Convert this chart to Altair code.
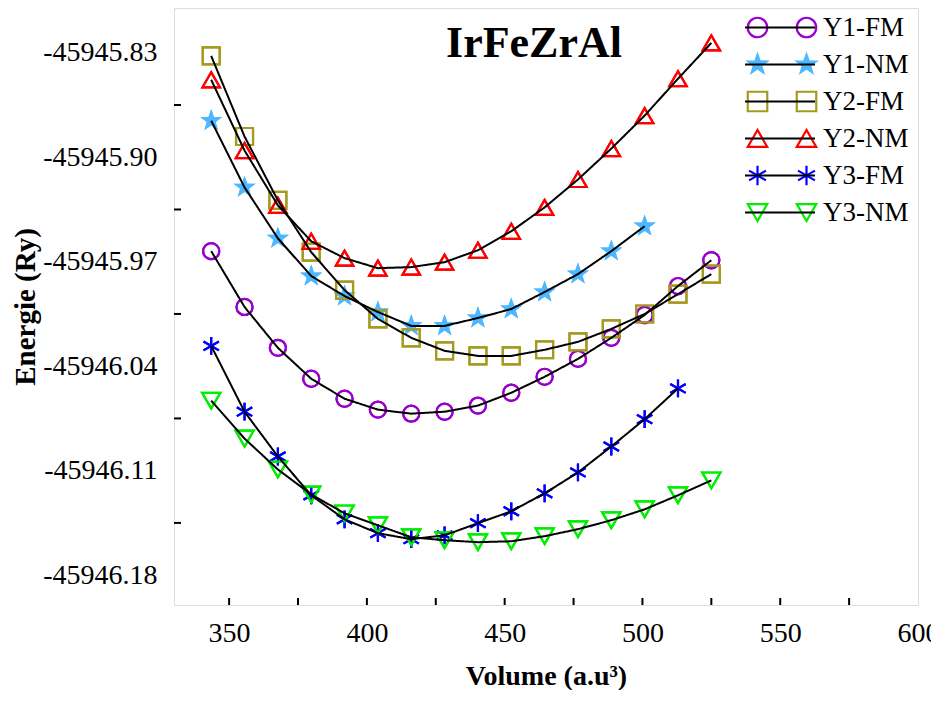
import altair as alt
import pandas as pd

# ---------------- data ----------------
volume = [343.5, 355.6, 367.7, 379.8, 391.9, 404.0, 416.1, 428.2,
          440.3, 452.4, 464.5, 476.6, 488.7, 500.8, 512.9, 525.0]

y1_fm = [-45945.9629, -45946.0003, -45946.0277, -45946.0484, -45946.0618, -45946.0691,
         -45946.0718, -45946.0705, -45946.0664, -45946.0578, -45946.0471, -45946.0351,
         -45946.0210, -45946.0057, -45945.9863, -45945.9690]
y1_nm = [-45945.8755, -45945.9202, -45945.9543, -45945.9796, -45945.9930, -45946.0037,
         -45946.0130, -45946.0130, -45946.0077, -45946.0017, -45945.9903, -45945.9783,
         -45945.9629, -45945.9462]
y2_fm = [-45945.8321, -45945.8861, -45945.9289, -45945.9636, -45945.9890, -45946.0083,
         -45946.0210, -45946.0297, -45946.0331, -45946.0331, -45946.0290, -45946.0237,
         -45946.0150, -45946.0050, -45945.9917, -45945.9783]
y2_nm = [-45945.8481, -45945.8955, -45945.9322, -45945.9563, -45945.9676, -45945.9743,
         -45945.9736, -45945.9703, -45945.9623, -45945.9496, -45945.9336, -45945.9149,
         -45945.8942, -45945.8721, -45945.8474, -45945.8234]
y3_fm = [-45946.0264, -45946.0705, -45946.1005, -45946.1265, -45946.1426, -45946.1519,
         -45946.1559, -45946.1533, -45946.1452, -45946.1372, -45946.1252, -45946.1112,
         -45946.0938, -45946.0755, -45946.0549]
y3_nm = [-45946.0631, -45946.0885, -45946.1092, -45946.1259, -45946.1386, -45946.1466,
         -45946.1546, -45946.1566, -45946.1579, -45946.1573, -45946.1539, -45946.1492,
         -45946.1432, -45946.1359, -45946.1265, -45946.1165]

series_names = ["Y1-FM", "Y1-NM", "Y2-FM", "Y2-NM", "Y3-FM", "Y3-NM"]
series_values = [y1_fm, y1_nm, y2_fm, y2_nm, y3_fm, y3_nm]

x_labels = [350, 400, 450, 500, 550, 600]
x_ticks = [350, 375, 400, 425, 450, 475, 500, 525, 550, 575]
y_labels = [-45945.83, -45945.90, -45945.97, -45946.04, -45946.11, -45946.18]
y_ticks = [-45945.865, -45945.935, -45946.005, -45946.075, -45946.145]

chart_title = "IrFeZrAl"

# ---------------- styling ----------------
STAR = ("M0,-1L0.235,-0.324L0.951,-0.309L0.380,0.124L0.588,0.809L0,0.4"
        "L-0.588,0.809L-0.380,0.124L-0.951,-0.309L-0.235,-0.324Z")
ASTER = "M0,-1V1M-0.866,-0.5L0.866,0.5M-0.866,0.5L0.866,-0.5"
shapes = ["circle", STAR, "square", "triangle-up", ASTER, "triangle-down"]
colors = ["#9900CC", "#4DB8FF", "#A39A1E", "#FF0000", "#0000FF", "#00EE00"]
fills = ["transparent", "#4DB8FF", "transparent", "transparent", "transparent", "transparent"]
sizes = [260, 330, 170, 340, 320, 340]

W, H = 744, 597
FONT = "Liberation Serif"

rows = []
for name, vals in zip(series_names, series_values):
    for v, e in zip(volume, vals):
        rows.append({"series": name, "volume": v, "energy": e})
df = pd.DataFrame(rows)

xscale = alt.Scale(domain=[330, 600], zero=False, nice=False)
yscale = alt.Scale(domain=[-45946.20, -45945.80], zero=False, nice=False)

xaxis = alt.Axis(values=x_labels, labelExpr="format(datum.value, 'd')", grid=False,
                 domain=False, ticks=False, tickSize=0, labelFont=FONT, labelFontSize=28,
                 labelColor="black", labelPadding=14, labelFlush=False, labelOverlap=False,
                 labelBound=False,
                 title="Volume (a.u³)", titleFont=FONT, titleFontSize=28, titleFontWeight="bold",
                 titleColor="black", titleX=372, titleY=79, titleBaseline="alphabetic")
yaxis = alt.Axis(values=y_labels,
                 labelExpr="replace(format(datum.value, '.2f'), '\u2212', '-')",
                 grid=False, domain=False, ticks=False, tickSize=0, labelFont=FONT,
                 labelFontSize=28, labelColor="black", labelPadding=17, labelOverlap=False,
                 labelBound=False, labelFlush=False,
                 title="Energie (Ry)", titleFont=FONT, titleFontSize=29, titleFontWeight="bold",
                 titleColor="black", titleX=-149, titleBaseline="middle", titleAngle=-90)

X = alt.X("volume:Q", scale=xscale, axis=xaxis)
Y = alt.Y("energy:Q", scale=yscale, axis=yaxis)

LEG_X = 570
LEG_Y = 1

def sym_legend(x, show_labels):
    kw = dict(orient="none", legendX=x, legendY=LEG_Y, title=None, symbolSize=380,
              symbolStrokeWidth=2.2, clipHeight=37, rowPadding=0, padding=0,
              labelFont=FONT, labelFontSize=27, labelColor="black", labelOffset=52)
    if not show_labels:
        kw["labelExpr"] = "''"
    return alt.Legend(**kw)

def points_layer(legend_x, show_labels):
    lg = sym_legend(legend_x, show_labels)
    return alt.Chart(df).mark_point(strokeWidth=2.2, opacity=1).encode(
        x=X, y=Y,
        shape=alt.Shape("series:N", scale=alt.Scale(domain=series_names, range=shapes), legend=lg),
        stroke=alt.Stroke("series:N", scale=alt.Scale(domain=series_names, range=colors), legend=lg),
        fill=alt.Fill("series:N", scale=alt.Scale(domain=series_names, range=fills), legend=lg),
        size=alt.Size("series:N", scale=alt.Scale(domain=series_names, range=sizes), legend=None),
    )

pts_a = points_layer(LEG_X, True)
pts_b = points_layer(LEG_X + 49, False)

lines = alt.Chart(df).mark_line(color="black", strokeWidth=2).encode(
    x=X, y=Y,
    strokeDash=alt.StrokeDash(
        "series:N",
        scale=alt.Scale(domain=series_names, range=[[1, 0]] * 6),
        legend=alt.Legend(orient="none", legendX=LEG_X, legendY=LEG_Y, title=None,
                          symbolType="stroke", symbolSize=4900, symbolStrokeColor="black",
                          symbolStrokeWidth=2, clipHeight=37, rowPadding=0, padding=0,
                          labelExpr="''", labelFontSize=27, labelOffset=52),
    ),
    order=alt.Order("volume:Q"),
)

xt = alt.Chart(pd.DataFrame({"t": x_ticks})).mark_rule(color="black", strokeWidth=2).encode(
    x=alt.X("t:Q", scale=xscale, axis=xaxis), y=alt.value(H), y2=alt.value(H - 7))
yt = alt.Chart(pd.DataFrame({"t": y_ticks})).mark_rule(color="black", strokeWidth=2).encode(
    y=alt.Y("t:Q", scale=yscale, axis=yaxis), x=alt.value(0), x2=alt.value(7))

title = alt.Chart(pd.DataFrame({"label": [chart_title]})).mark_text(
    font=FONT, fontSize=44, fontWeight="bold", color="black", align="center",
    baseline="alphabetic").encode(text="label:N", x=alt.value(360), y=alt.value(49))

chart = alt.layer(xt, yt, pts_a, pts_b, lines, title).resolve_scale(
    shape="independent", stroke="independent", fill="independent", strokeDash="independent"
).properties(
    width=W, height=H,
    autosize=alt.AutoSizeParams(type="none"),
    padding={"left": 166, "top": 0, "right": 13, "bottom": 85},
).configure_view(stroke="black", strokeWidth=2).configure(background="white")

chart.save("out.html", embed_options={"renderer": "svg", "actions": False})
